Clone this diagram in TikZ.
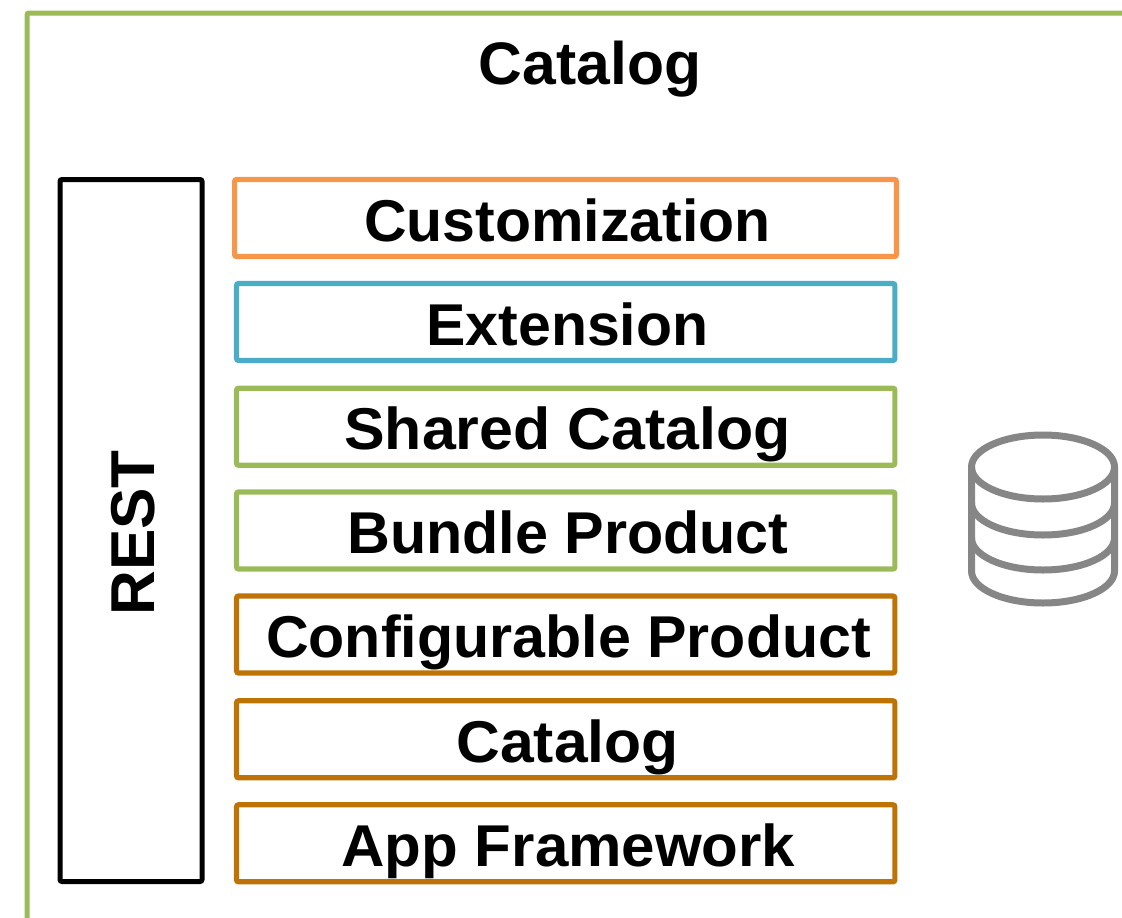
\documentclass[tikz,border=0pt]{standalone}
\usepackage{fontspec}
\setmainfont{Liberation Sans}
\definecolor{grn}{HTML}{9BBB59}
\definecolor{org}{HTML}{F79646}
\definecolor{blu}{HTML}{4BACC6}
\definecolor{brn}{HTML}{BF7305}
\definecolor{gry}{HTML}{868686}
\newcommand{\stretchx}[2]{\scalebox{#1}[1]{#2}}
\tikzset{x=1pt,y=-1pt,
 layerbox/.style={draw=#1,line width=5.2pt,rounded corners=2pt,minimum width=658.3pt,minimum height=77pt,inner sep=0pt},
 layertext/.style={font=\fontsize{59}{59}\selectfont\bfseries,text=black,inner sep=0pt,anchor=base},
 titletext/.style={font=\fontsize{60}{60}\selectfont\bfseries,inner sep=0pt,anchor=base},
 resttext/.style={font=\fontsize{62}{62}\selectfont\bfseries,inner sep=0pt,rotate=90},
 dbline/.style={draw=gry,line width=7pt}}
\begin{document}
\begin{tikzpicture}
\useasboundingbox (0,0) rectangle (1122,918);
\coordinate (fa) at (1130,13);
\coordinate (fb) at (27,13);
\coordinate (fc) at (27,930);
\draw[grn,line width=5pt,rounded corners=2pt] (fa) -- (fb) -- (fc);
\node[titletext] (title) at (590,84.5) {\stretchx{1.01}{Catalog}};
\node[draw=black,line width=5pt,rounded corners=2pt,minimum width=142pt,minimum height=702pt,inner sep=0pt] (rest) at (131,530.5) {};
\node[resttext] (restlabel) at (133,533) {REST};
\node[layerbox=org,minimum width=661.8pt] (l1) at (565.5,218) {};
\node[layerbox=blu] (l2) at (565.7,322) {};
\node[layerbox=grn] (l3) at (565.7,426.7) {};
\node[layerbox=grn] (l4) at (565.7,530.5) {};
\node[layerbox=brn] (l5) at (565.7,634.5) {};
\node[layerbox=brn] (l6) at (565.7,739.3) {};
\node[layerbox=brn] (l7) at (565.7,843.3) {};
\node[layertext] (t1) at (567.5,241) {Customization};
\node[layertext] (t2) at (567.5,345.2) {Extension};
\node[layertext] (t3) at (567.5,449.4) {\stretchx{1.032}{Shared Catalog}};
\node[layertext] (t4) at (568,553.6) {\stretchx{1.005}{Bundle Product}};
\node[layertext] (t5) at (568.5,657.8) {\stretchx{1.003}{Configurable Product}};
\node[layertext] (t6) at (567.5,762) {\stretchx{1.028}{Catalog}};
\node[layertext] (t7) at (568.5,866.2) {\stretchx{1.018}{App Framework}};
\draw[dbline] (971.5,467) -- (971.5,571) arc[start angle=180,end angle=360,x radius=71.5,y radius=-32] -- (1114.5,467);
\draw[dbline] (1043,467) ellipse[x radius=71.5,y radius=32];
\draw[dbline] (971.5,503) arc[start angle=180,end angle=360,x radius=71.5,y radius=-32];
\draw[dbline] (971.5,538) arc[start angle=180,end angle=360,x radius=71.5,y radius=-32];
\end{tikzpicture}
\end{document}
